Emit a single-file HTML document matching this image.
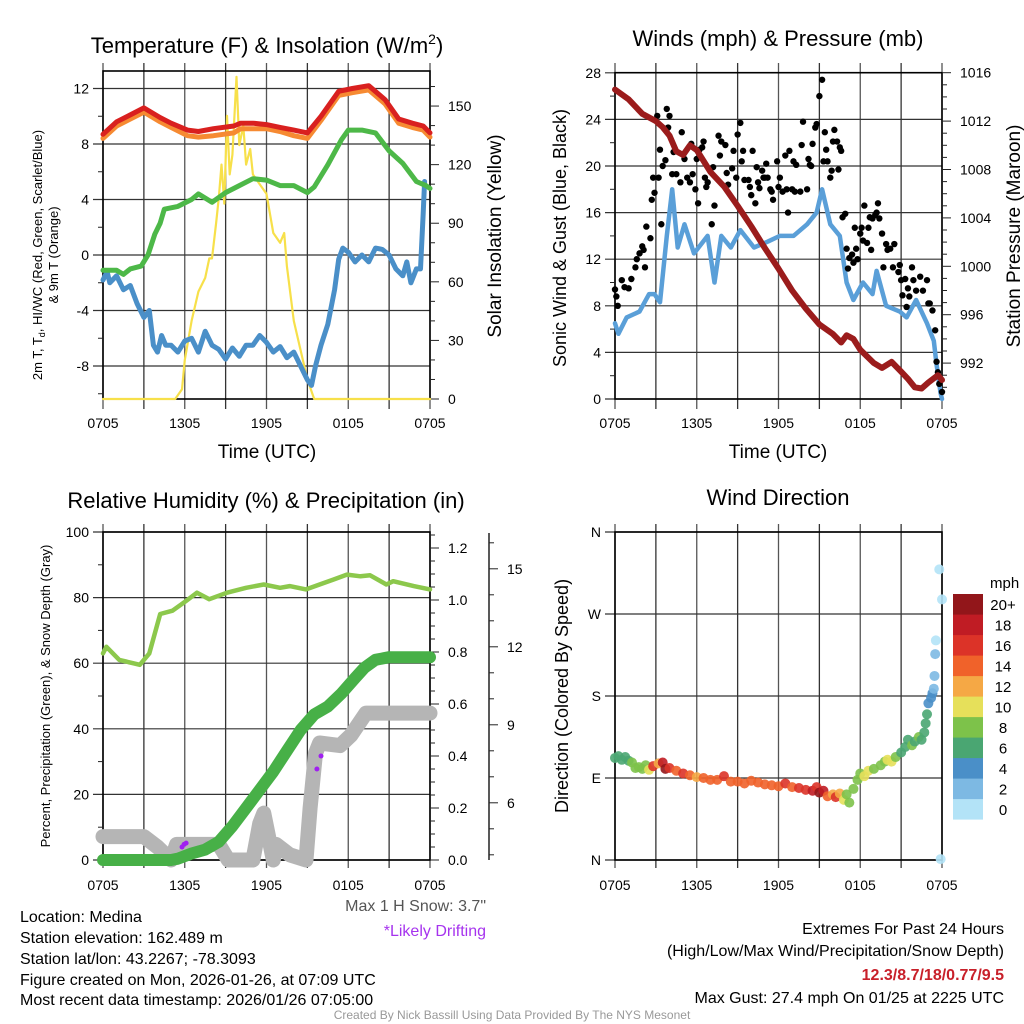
<!DOCTYPE html>
<html><head><meta charset="utf-8"><style>
html,body{margin:0;padding:0;background:#fff;}
svg{display:block;font-family:"Liberation Sans",sans-serif;}
</style></head><body>
<svg id="fig" width="1024" height="1024" viewBox="0 0 1024 1024" xmlns="http://www.w3.org/2000/svg">
<rect width="1024" height="1024" fill="#fff"/>
<g id="p1"></g>
<g id="p2"></g>
<g id="p3"></g>
<g id="p4"></g>
<g id="txt" font-size="16" fill="#000">
<text x="267" y="53" font-size="22" text-anchor="middle">Temperature (F) &amp; Insolation (W/m<tspan font-size="14" dy="-9">2</tspan><tspan dy="9">)</tspan></text>
<text x="778" y="46" font-size="22" text-anchor="middle">Winds (mph) &amp; Pressure (mb)</text>
<text x="266" y="508" font-size="22" text-anchor="middle">Relative Humidity (%) &amp; Precipitation (in)</text>
<text x="778" y="505" font-size="22" text-anchor="middle">Wind Direction</text>
<text x="267" y="458" font-size="19" text-anchor="middle">Time (UTC)</text>
<text x="778" y="458" font-size="19" text-anchor="middle">Time (UTC)</text>
<text transform="translate(42,255) rotate(-90)" font-size="13" text-anchor="middle">2m T, T<tspan font-size="9" dy="3">d</tspan><tspan dy="-3">, HI/WC (Red, Green, Scarlet/Blue)</tspan></text>
<text transform="translate(58,255) rotate(-90)" font-size="13" text-anchor="middle">&amp; 9m T (Orange)</text>
<text transform="translate(501,236) rotate(-90)" font-size="19" text-anchor="middle">Solar Insolation (Yellow)</text>
<text transform="translate(566,238) rotate(-90)" font-size="18" text-anchor="middle">Sonic Wind &amp; Gust (Blue, Black)</text>
<text transform="translate(1020,236) rotate(-90)" font-size="19" text-anchor="middle">Station Pressure (Maroon)</text>
<text transform="translate(50,696) rotate(-90)" font-size="13" text-anchor="middle">Percent, Precipitation (Green), &amp; Snow Depth (Gray)</text>
<text transform="translate(568,696) rotate(-90)" font-size="18" text-anchor="middle">Direction (Colored By Speed)</text>
<text x="20" y="922">Location: Medina</text>
<text x="20" y="943">Station elevation: 162.489 m</text>
<text x="20" y="964">Station lat/lon: 43.2267; -78.3093</text>
<text x="20" y="985">Figure created on Mon, 2026-01-26, at 07:09 UTC</text>
<text x="20" y="1005">Most recent data timestamp: 2026/01/26 07:05:00</text>
<text x="486" y="911" text-anchor="end" fill="#555">Max 1 H Snow: 3.7"</text>
<text x="486" y="936" text-anchor="end" fill="#a633ee">*Likely Drifting</text>
<text x="1004" y="934" text-anchor="end">Extremes For Past 24 Hours</text>
<text x="1004" y="956" text-anchor="end">(High/Low/Max Wind/Precipitation/Snow Depth)</text>
<text x="1004" y="980" text-anchor="end" fill="#c8202a" font-weight="bold">12.3/8.7/18/0.77/9.5</text>
<text x="1004" y="1003" text-anchor="end">Max Gust: 27.4 mph On 01/25 at 2225 UTC</text>
<text x="512" y="1019" text-anchor="middle" font-size="12" fill="#999">Created By Nick Bassill Using Data Provided By The NYS Mesonet</text>
</g>
</svg>
<script>
// ---------- DATA ----------
const tempHours=[0,1,2,3,4.2,5,6.2,7,8.1,9.6,10.1,11,12,13,14,15,16,17.3,18.3,19.5,20.7,21.7,22.7,23.5,24];
const tempValues=[8.7,9.6,10.1,10.6,9.9,9.5,9.0,8.9,9.1,9.3,9.5,9.5,9.4,9.2,9.0,8.8,10.0,11.8,12.0,12.2,11.2,9.8,9.5,9.3,8.8];
const temp9mValues=[8.4,9.3,9.8,10.3,9.6,9.2,8.6,8.5,8.6,8.8,9.1,9.1,9.1,8.9,8.6,8.4,9.7,11.5,11.7,11.9,10.9,9.5,9.2,9.0,8.5];
const dewHours=[0,1,1.5,2,2.8,3.3,3.8,4.2,4.5,5.5,6.5,7,8,9,10,11,12,13,14,15,15.5,16.5,17.5,18,19,20,21,22,23,23.7,24];
const dewValues=[-1.1,-1.1,-1.4,-1.0,-0.8,0.0,1.5,2.3,3.3,3.5,4.0,4.4,3.8,4.5,5.0,5.5,5.4,5.0,5.0,4.5,4.9,6.5,8.3,9.0,9.0,8.8,7.5,6.6,5.3,5.0,4.8];
const chillHours=[0,0.3,0.5,1,1.5,2,2.5,3,3.4,3.7,4,4.3,4.6,5,5.5,6,6.5,7,7.5,8,8.5,9,9.5,10,10.5,11,11.5,12,12.5,13,13.5,14,14.5,15,15.3,15.6,16,16.5,17,17.3,17.6,18,18.5,19,19.5,20,20.5,21,21.5,22,22.3,22.6,23,23.3,23.5,23.6];
const chillValues=[-1.8,-1.2,-2.0,-1.5,-2.5,-2.2,-3.5,-4.5,-4.0,-6.5,-7.0,-5.8,-6.5,-6.5,-7.0,-6.2,-6.0,-7.0,-5.5,-6.5,-6.8,-7.5,-6.7,-7.3,-6.5,-6.5,-5.8,-6.3,-7.0,-6.6,-7.4,-7.0,-8.0,-9.0,-9.4,-8.0,-6.5,-5.0,-2.5,-0.3,0.5,0.2,-0.5,0.0,-0.5,0.5,0.4,0.0,-1.0,-1.5,-0.5,-2.0,-1.0,-1.0,3.0,5.3];
const solarHours=[0,5.3,5.8,6,6.5,7,7.5,7.8,8,8.3,8.5,8.7,8.9,9.1,9.3,9.5,9.8,10,10.3,10.5,10.8,11,11.5,12,12.5,13,13.3,13.5,14,14.5,15,15.5,24];
const solarValues=[0,0,5,20,40,55,62,72,72,90,103,120,100,145,115,125,165,130,140,120,128,115,110,105,85,80,85,68,40,25,10,0,0];
const windTicks=[0,4,8,12,16,20,24,28];
const windHours=[0,0.25,0.86,1.8,2.5,2.9,3.3,3.8,4.2,4.6,5.1,5.8,6.8,7.3,7.8,8.5,9.2,10.2,11.2,12.1,13.1,14.1,14.8,15.2,15.8,16.5,17,17.5,18.2,18.9,19.2,19.9,20.9,21.4,22.1,22.9,23.4,23.6,23.9,24];
const windValues=[6.5,5.6,7,7.5,9,9,8.3,14,18,13,15,12.5,14,10,14,13,14.5,13,13.5,14,14,15,16,18,15,14,10,8.5,10,9,11,8,7.5,7,8.5,6.5,5,3,0.5,0];
const gustHours=[0,0.1,0.2,0.5,0.7,1,1.2,1.5,1.6,1.8,2.0,2.1,2.2,2.3,2.6,2.7,2.8,2.9,3.1,3.2,3.3,3.4,3.5,3.7,3.8,3.9,4.0,4.2,4.3,4.5,4.8,4.9,5.1,5.3,5.5,5.6,5.7,5.9,6.0,6.1,6.2,6.4,6.5,6.6,6.7,6.8,7.1,7.2,7.3,7.6,7.7,7.8,8.1,8.2,8.3,8.6,8.7,8.9,9.0,9.2,9.3,9.4,9.5,9.8,9.9,10.0,10.1,10.3,10.4,10.5,10.6,10.8,10.9,11.0,11.1,11.2,11.4,11.5,11.6,11.9,12.0,12.1,12.3,12.5,12.6,12.7,12.8,13.0,13.1,13.2,13.3,13.6,13.7,13.8,14.1,14.2,14.3,14.4,14.5,14.7,14.8,15.0,15.2,15.3,15.4,15.5,15.6,15.8,15.9,16.0,16.1,16.3,16.4,16.5,16.6,16.7,16.9,17.0,17.1,17.2,17.4,17.5,17.6,17.7,17.8,18.0,18.1,18.2,18.3,18.5,18.6,18.7,18.8,18.9,19.1,19.2,19.3,19.4,19.6,19.7,19.9,20.0,20.2,20.4,20.5,20.8,20.9,21.0,21.1,21.3,21.4,21.5,21.6,21.8,21.9,22.1,22.4,22.6,22.9,23.0,23.1,23.3,23.5,23.6,23.7,23.8,24.0];
const gustValues=[9.4,8.8,8,10.2,9.6,9.5,10.3,11.3,12,12.5,13.1,12.8,11.3,14.8,13.8,17.1,19,17.7,24.3,19,21.4,15,20,20.5,24.9,23.3,24.3,19.3,21.2,19.3,18.6,22.9,20.6,19,18.6,21.9,19.3,18,20.6,16.8,21.4,21.6,22.1,19,18.2,18.6,15,19.9,16.6,22.6,20.9,22.1,21.8,19.4,18.4,19.8,21.3,19,22.7,23.7,20.4,21.3,18.8,18.8,18.2,17.5,21.3,16.8,19.9,18.6,18.1,19.6,19,19,20.2,19,18,17.8,17.1,20.4,18.2,19,17.8,20.9,18,16,21.3,18,20.4,17.8,20.1,17.8,21.8,23.8,18,20.6,20.1,20,21.9,23.3,23.6,26,27.4,20.4,22.9,21.4,20.4,19,19.6,22.1,23.1,22.1,19.7,21.6,21.3,15.6,15.9,12.9,11.2,12.1,12.4,11.7,14.7,12.9,12,14.2,14.7,13.6,16.6,13.4,14.7,15.6,12.8,15.5,15.8,16,16.8,15.5,14.2,11.3,13.3,12.8,12.9,11.3,13.3,10.9,11.5,10.2,8.9,10.3,7.9,9.5,8.8,11.3,10.2,9.3,10.5,9.3,10.2,8.2,8.2,7.6,5.9,3.2,2.3,1.3,0.6];
const pressHours=[0,1,2,3,3.5,4,4.5,5,5.5,6,6.5,7,8,9,10,11,12,13,14,15,16,16.6,17,17.5,18,19,19.6,20.3,21,21.5,22,22.5,23,23.7,24];
const pressValues=[1014.6,1013.8,1012.6,1012,1011.5,1010.8,1009.5,1009.2,1010,1009.6,1008.7,1007.8,1006.6,1005,1003.3,1001.5,999.8,998,996.5,995.2,994.4,993.7,994.3,994,993.1,992,991.6,992.1,991.3,990.7,990,989.9,990.4,991,990.6];
const rhHours=[0,0.25,1.2,2.2,2.7,3.4,4.2,5.1,6.1,6.9,7.8,9.1,10.5,11.8,13,13.7,14.9,15.9,16.9,17.9,18.9,19.6,20.8,21.3,22.8,24];
const rhValues=[63,65,61,60,59.5,63,75,76,79,81.5,79.5,81.5,83,84,83,83.5,82.5,84,85.5,87,86.5,86.8,84,85,83.5,82.5];
const precipHours=[0,5,5.5,6.5,7.5,8.5,9.5,10.5,11.5,12.5,13.5,14.5,15.5,16.5,17.5,18.5,19.2,20,21,24];
const precipValues=[0,0,0.005,0.025,0.04,0.07,0.13,0.2,0.27,0.34,0.42,0.5,0.56,0.59,0.64,0.7,0.74,0.77,0.78,0.78];
const snowHours=[0,3,4,5,5.4,8.5,9.2,11,11.5,11.8,12.5,12.7,13.7,14.9,15.2,15.6,15.9,17.4,18.2,19.3,24];
const snowValues=[4.7,4.7,4.3,3.8,4.4,4.4,3.8,3.8,5.2,5.6,3.8,4.4,4.0,3.8,5.8,7.9,8.3,8.2,8.6,9.45,9.45];
const driftHours=[5.8,5.95,6.1,15.7,16.0];
const driftValues=[4.3,4.4,4.45,7.3,7.8];
const dirHours=[0,0.25,0.5,0.75,1,1.25,1.5,1.75,2,2.25,2.5,2.8,3.2,3.5,3.7,4,4.5,5,5.5,6,6.5,7,7.5,8,8.5,9,9.5,10,10.5,11,11.5,12,12.5,13,13.5,14,14.5,14.8,15,15.3,15.6,16,16.2,16.5,16.8,17,17.2,17.5,17.8,18,18.3,18.6,19,19.5,19.8,20,20.3,20.6,21,21.3,21.5,21.8,22,22.3,22.5,22.7,22.8,22.9,23,23.2,23.3,23.4,23.45,23.5,23.55,23.8,24,23.9];
const dirValues=[112,114,110,113,109,107,101,102,100,104,99,103,106,107,100,101,98,95,93,91,90,88,88,92,86,86,84,87,85,83,82,81,84,80,79,77,76,80,74,76,70,72,69,73,66,72,63,78,88,95,92,98,100,104,108,110,108,113,118,124,132,126,130,135,132,140,150,160,172,178,183,188,202,226,241,319,286,1];
const dirSpeeds=[6,6,6,6,6,8,8,8,8,8,10,16,12,18,20,16,14,16,14,12,14,14,14,16,14,14,14,14,14,14,14,14,16,14,16,16,18,16,20,18,14,12,16,12,10,8,8,8,8,8,10,10,8,8,8,10,10,8,6,6,6,8,6,8,6,6,6,6,4,4,4,2,2,2,0,0,0,0];
const speedBins=[0,2,4,6,8,10,12,14,16,18,20];
const speedLabels=["0","2","4","6","8","10","12","14","16","18","20+"];
const speedColors=["#b3e3f7","#7db9e3","#4a8fc8","#4aa672","#7dc24a","#e6e05a","#f5a845","#f0622a","#dc3328","#c01c24","#92161a"];
const timeLabels=["0705","1305","1905","0105","0705"];
const tempTicks=[-8,-4,0,4,8,12];
const rhTicks=[0,20,40,60,80,100];
const dirTicks=[0,90,180,270,360];
const dirLabels=["N","E","S","W","N"];

// ---------- SCALES ----------
const xL=h=>103+h*327/24, xR=h=>615+h*327/24;
const yT=v=>255-v*13.875, yI=v=>399-v*1.953;
const yW=v=>399-v*11.65, yP=p=>72.7+(1016-p)*12.1;
const yRH=v=>860-v*3.28, yPr=v=>860-v*260, ySn=s=>860-(s-3.8)*26, yD=d=>860-d*0.9111;
const NS="http://www.w3.org/2000/svg";
function mk(tag,parent,attrs){const e=document.createElementNS(NS,tag);for(const k in attrs)e.setAttribute(k,attrs[k]);parent.appendChild(e);return e;}
function pathD(hs,vs,fx,fy){return hs.map((h,i)=>(i?"L":"M")+fx(h).toFixed(1)+","+fy(vs[i]).toFixed(1)).join("");}
function series(parent,hs,vs,fx,fy,color,w,name){
  const p=mk("path",parent,{d:pathD(hs,vs,fx,fy),fill:"none",stroke:color,"stroke-width":w,"stroke-linejoin":"round","stroke-linecap":"round"});
  
  
  return p;
}
function frame(g,x0,x1,top,bot,gTop,gBot,hTicks,fy,leftLabels,ext,lblY){
  for(let i=0;i<=8;i++){const x=x0+i*(x1-x0)/8;
    const l=mk("line",g,{x1:x,x2:x,y1:gTop,y2:gBot,stroke:i%2?"#333":"#555","stroke-width":1.3});
    
    
    if(i%2===0){const t=mk("text",g,{x:x,y:lblY,"font-size":14,"text-anchor":"middle"});t.textContent=timeLabels[i/2];
      
      }
  }
  hTicks.forEach((v,i)=>{const y=fy(v);
    const l=mk("line",g,{x1:x0-ext,x2:x1,y1:y,y2:y,stroke:"#333","stroke-width":1.2});
    
    
    const t=mk("text",g,{x:x0-14,y:y+5,"font-size":14,"text-anchor":"end"});t.textContent=leftLabels[i];
    
    
  });
  const b=mk("rect",g,{x:x0,y:top,width:x1-x0,height:bot-top,fill:"none",stroke:"#000","stroke-width":1.6});
  
  
}
function rightAxis(g,x,lo,hi,step,minor,fy,labelFn,name){
  for(let v=lo;v<=hi+1e-9;v+=minor){const y=fy(v);const major=Math.abs(v/step-Math.round(v/step))<1e-6;
    const l=mk("line",g,{x1:x,x2:x+(major?9:5),y1:y,y2:y,stroke:"#222","stroke-width":1});
    
    
    if(major){const t=mk("text",g,{x:x+18,y:y+5,"font-size":14});t.textContent=labelFn(v);
      
      }
  }
}
// ---------- PANEL 1 ----------
const p1=document.getElementById('p1');
frame(p1,103,430,71,399,63,409,tempTicks,yT,tempTicks.map(String),10,428);
for(let v=-10;v<=13;v+=4){const l=mk("line",p1,{x1:98,x2:103,y1:yT(v),y2:yT(v),stroke:"#222"});}
rightAxis(p1,430,0,160,30,10,yI,v=>String(v),'solar');
series(p1,solarHours,solarValues,xL,yI,"#f7e04a",2.2,'solar-insolation-line');
series(p1,chillHours,chillValues,xL,yT,"#4a8fc8",5,'wind-chill-line');
series(p1,dewHours,dewValues,xL,yT,"#4db848",5,'dewpoint-line');
series(p1,tempHours,temp9mValues,xL,yT,"#f68a32",5,'temp-9m-line');
series(p1,tempHours,tempValues,xL,yT,"#d9201f",5,'temp-2m-line');
// ---------- PANEL 2 ----------
const p2=document.getElementById('p2');
frame(p2,615,942,72.7,399,63,409,windTicks,yW,windTicks.map(String),10,428);
for(let v=2;v<28;v+=4){const l=mk("line",p2,{x1:610,x2:615,y1:yW(v),y2:yW(v),stroke:"#222"});}
rightAxis(p2,942,990,1016,4,1,yP,v=>String(v),'pressure');
series(p2,windHours,windValues,xR,yW,"#5a9fd8",4.5,'sonic-wind-line');
gustHours.forEach((h,i)=>{const c=mk("circle",p2,{cx:xR(h),cy:yW(gustValues[i]),r:3.2,fill:"#000"});
  
  });
series(p2,pressHours,pressValues,xR,yP,"#9b1c1c",6,'pressure-line');
// ---------- PANEL 3 ----------
const p3=document.getElementById('p3');
frame(p3,103,430,532,860,524,868,rhTicks,yRH,rhTicks.map(String),10,890);
for(let v=10;v<100;v+=20){const l=mk("line",p3,{x1:98,x2:103,y1:yRH(v),y2:yRH(v),stroke:"#222"});}
rightAxis(p3,430,0,1.25,0.2,0.05,yPr,v=>v.toFixed(1),'precip');
const sax=mk("line",p3,{x1:489,x2:489,y1:533,y2:860,stroke:"#222","stroke-width":1.5});


rightAxis(p3,489,4,16,3,1,ySn,v=>String(Math.round(v)),'snow');
series(p3,snowHours,snowValues,xL,ySn,"#b5b5b5",15,'snow-depth-line');
series(p3,precipHours,precipValues,xL,yPr,"#47b047",12,'precipitation-line');
series(p3,rhHours,rhValues,xL,yRH,"#8cc84c",4.5,'relative-humidity-line');
driftHours.forEach((h,i)=>{const c=mk("circle",p3,{cx:xL(h),cy:ySn(driftValues[i]),r:2.5,fill:"#a020f0"});
  
  });
// ---------- PANEL 4 ----------
const p4=document.getElementById('p4');
frame(p4,615,942,532,860,524,868,dirTicks,yD,dirLabels,10,890);
dirHours.forEach((h,i)=>{const bin=Math.min(10,Math.round(dirSpeeds[i]/2));
  const c=mk("circle",p4,{cx:xR(h),cy:yD(dirValues[i]),r:5,fill:speedColors[bin],"fill-opacity":0.9});
  
  });
const mt=mk("text",p4,{x:990,y:588,"font-size":15});mt.textContent="mph";


speedBins.forEach((s,i)=>{const y=594+(10-i)*20.5;
  const r=mk("rect",p4,{x:953,y:y,width:30,height:20.6,fill:speedColors[i]});
  
  
  const t=mk("text",p4,{x:1003,y:y+16,"font-size":15,"text-anchor":"middle"});t.textContent=speedLabels[i];
  
  });
</script>
</body></html>
